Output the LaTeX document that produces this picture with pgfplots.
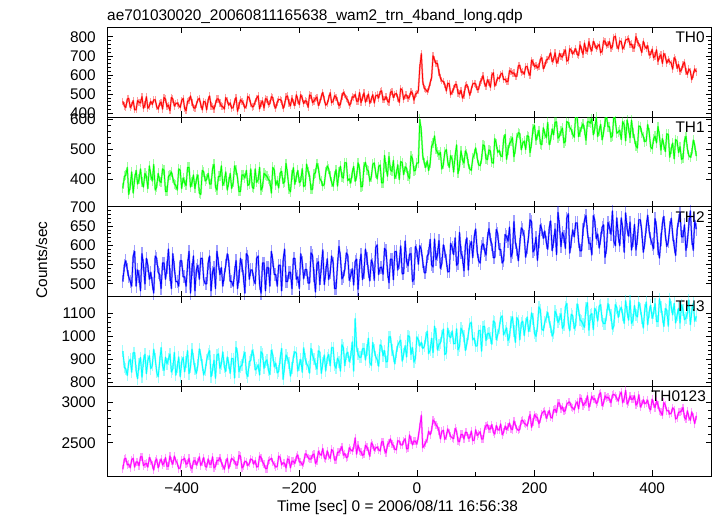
\documentclass[border=0pt]{standalone}
\usepackage{fontspec}
\setmainfont{Liberation Sans}
\usepackage{pgfplots}
\usepackage{pgfplotstable}
\pgfplotsset{compat=1.18}
\definecolor{qred}{rgb}{1,0,0}
\definecolor{qgreen}{rgb}{0,1,0}
\definecolor{qblue}{rgb}{0,0,1}
\definecolor{qcyan}{rgb}{0,1,1}
\definecolor{qmag}{rgb}{1,0,1}

\pgfplotstableread{
t a b c d e
-500 462 370 506 936 2174
-497.5 438 410 548 866 2300
-495 430 415 560 859 2309
-492.5 474 440 536 831 2228
-490 478 350 518 888 2237
-487.5 430 380 506 901 2192
-485 442 425 494 845 2291
-482.5 466 355 572 929 2309
-480 418 400 584 929 2201
-477.5 418 430 494 852 2264
-475 466 385 536 817 2264
-472.5 458 400 518 880 2219
-470 454 435 482 908 2327
-467.5 486 390 578 824 2327
-465 426 375 548 895 2219
-462.5 446 420 500 922 2237
-460 486 410 566 839 2246
-457.5 426 370 548 895 2201
-455 438 445 512 916 2318
-452.5 462 415 530 860 2282
-450 446 395 500 874 2228
-447.5 470 450 476 944 2165
-445 470 365 572 902 2273
-442.5 434 375 566 846 2300
-440 422 420 530 825 2192
-437.5 450 395 524 888 2255
-435 458 390 488 951 2300
-432.5 422 435 554 874 2228
-430 482 430 554 853 2255
-427.5 474 360 512 909 2318
-425 434 360 542 881 2210
-422.5 442 410 590 902 2210
-420 414 415 524 923 2336
-417.5 482 425 488 846 2273
-415 474 405 578 860 2237
-412.5 438 385 542 930 2336
-410 450 380 506 832 2282
-407.5 454 365 506 867 2246
-405 442 435 494 910 2183
-402.5 430 430 560 825 2192
-400 466 370 560 889 2291
-397.5 478 405 518 909 2291
-395 426 390 518 847 2309
-392.5 414 380 494 888 2237
-390 462 440 548 938 2246
-387.5 466 440 584 839 2309
-385 490 375 476 868 2201
-382.5 458 390 536 944 2183
-380 430 415 572 903 2273
-377.5 426 370 482 860 2282
-375 446 400 536 840 2228
-372.5 470 415 548 875 2264
-370 478 355 512 945 2327
-367.5 446 350 566 917 2219
-365 418 430 566 875 2264
-362.5 462 425 512 833 2318
-360 458 395 500 854 2210
-357.5 418 400 500 896 2201
-355 470 420 554 924 2300
-352.5 490 385 572 938 2237
-350 438 385 482 826 2237
-347.5 434 435 530 854 2327
-345 422 450 542 896 2192
-342.5 450 375 488 819 2210
-340 474 365 584 918 2282
-337.5 474 410 554 924 2282
-335 454 410 524 862 2318
-332.5 438 445 542 882 2255
-330 434 380 494 932 2219
-327.5 422 395 524 868 2174
-325 482 425 548 848 2255
-322.5 466 365 578 910 2309
-320 442 390 560 883 2183
-317.5 454 420 506 840 2246
-315 426 370 506 904 2309
-312.5 430 390 494 903 2291
-310 462 445 530 820 2273
-307.5 482 430 560 952 2228
-305 410 405 488 925 2228
-302.5 442 360 518 847 2345
-300 470 360 566 869 2336
-297.5 462 415 548 875 2192
-295 451 415 518 911 2210
-292.5 427 405 476 931 2273
-290 440 430 578 841 2264
-287.5 488 380 572 826 2219
-285 480 385 512 890 2246
-282.5 449 435 536 896 2300
-280 433 375 536 940 2291
-277.5 437 370 512 917 2237
-275 462 435 500 855 2282
-272.5 478 390 566 861 2201
-270 491 400 572 877 2210
-267.5 423 440 500 833 2336
-265 451 365 476 933 2318
-262.5 464 375 554 924 2264
-260 428 420 554 862 2237
-257.5 476 415 482 889 2183
-255 473 410 542 898 2183
-252.5 445 400 542 854 2282
-250 450 395 494 835 2291
-247.5 486 355 584 940 2309
-245 482 440 560 919 2264
-242.5 439 431 524 868 2228
-240 427 381 524 884 2201
-237.5 459 396 494 842 2210
-235 472 372 548 849 2336
-232.5 472 422 548 905 2318
-230 464 427 482 947 2228
-227.5 425 387 560 814 2255
-225 445 392 590 870 2246
-222.5 486 453 506 919 2192
-220 490 418 506 905 2300
-217.5 454 368 530 884 2291
-215 439 359 530 828 2192
-212.5 479 414 488 863 2273
-210 456 439 566 912 2273
-207.5 440 384 566 933 2246
-205 496 409 512 927 2327
-202.5 469 430 518 850 2350
-200 445 390 488 878 2264
-197.5 497 395 578 900 2266
-195 478 436 555 845 2224
-192.5 450 376 513 950 2253
-190 466 381 537 902 2364
-187.5 462 451 537 882 2357
-185 431 426 502 869 2315
-182.5 495 412 502 841 2299
-180 491 367 580 947 2302
-177.5 456 367 574 920 2349
-175 464 418 521 900 2361
-172.5 476 423 479 879 2246
-170 484 453 551 859 2276
-167.5 441 438 557 937 2395
-165 457 403 498 931 2362
-162.5 489 394 546 840 2346
-160 509 379 588 883 2430
-157.5 470 384 498 919 2315
-155 442 425 529 850 2300
-152.5 450 445 565 906 2401
-150 478 435 511 921 2341
-147.5 507 410 529 873 2307
-145 455 391 572 951 2418
-142.5 463 377 554 951 2393
-140 491 412 488 875 2288
-137.5 484 432 488 862 2290
-135 464 378 549 905 2383
-132.5 440 424 597 891 2385
-130 448 444 567 850 2415
-127.5 489 409 513 963 2453
-125 509 405 520 950 2348
-122.5 497 456 538 873 2368
-120 477 456 580 923 2317
-117.5 470 396 574 931 2328
-115 442 402 509 890 2439
-112.5 450 388 521 911 2414
-110 486 423 539 975 2399
-107.5 483 443 497 850 2437
-105 499 394 558 1076 2560
-102.5 463 410 564 956 2361
-100 463 455 486 922 2472
-97.5 508 436 547 909 2403
-95 456 376 577 910 2388
-92.5 481 377 511 946 2346
-90 506 442 530 947 2358
-87.5 458 457 590 898 2469
-85 479 433 567 941 2445
-82.5 500 428 531 991 2403
-80 452 394 508 887 2334
-77.5 473 409 562 874 2499
-75 497 450 551 973 2475
-72.5 454 455 509 939 2406
-70 491 421 594 912 2436
-67.5 495 402 601 898 2448
-65 480 443 524 871 2415
-62.5 513 448 542 963 2400
-60 517 389 543 957 2511
-57.5 470 389 525 916 2514
-55 471 480 592 938 2409
-52.5 487 440 586 890 2376
-50 464 411 533 891 2478
-47.5 457 476 503 997 2499
-45 509 432 564 998 2547
-42.5 514 427 564 942 2487
-40 482 463 511 915 2463
-37.5 499 403 583 881 2421
-35 504 419 584 931 2415
-32.5 480 449 536 960 2526
-30 457 400 555 975 2520
-27.5 529 460 598 983 2478
-25 520 456 526 893 2472
-22.5 472 416 527 923 2520
-20 495 442 611 959 2550
-17.5 495 437 558 911 2427
-15 478 413 547 1003 2430
-12.5 486 403 577 998 2595
-10 513 478 578 922 2535
-7.5 505 469 506 951 2475
-5 469 429 513 889 2523
-2.5 500 430 597 905 2517
0 504 455 586 997 2484
2.5 520 455 551 984 2580
5 640 600 599 958 2700
7.5 712 560 588 974 2840
10 568 480 558 947 2440
12.5 530 455 529 956 2470
15 525 440 529 992 2502
17.5 512 462 572 1022 2545
20 526 430 578 925 2642
22.5 560 455 615 941 2600
25 586 510 549 991 2655
27.5 700 520 544 930 2780
30 680 545 616 1043 2760
32.5 660 500 563 1010 2720
35 660 490 575 941 2700
37.5 615 482 612 964 2647
40 584 490 540 972 2549
42.5 570 435 553 1002 2642
45 565 450 601 1031 2654
47.5 551 490 584 921 2541
50 517 500 560 929 2581
52.5 557 460 531 1035 2671
55 554 440 532 1001 2625
57.5 497 480 605 994 2580
60 512 465 593 1023 2561
62.5 527 425 576 968 2552
65 551 480 619 969 2677
67.5 550 515 548 1032 2641
70 506 420 554 942 2523
72.5 501 445 633 957 2514
75 520 495 580 1035 2603
77.5 480 465 569 1021 2603
80 495 455 534 1001 2548
82.5 543 495 600 939 2629
85 550 485 619 968 2628
87.5 526 450 536 1010 2556
90 494 435 597 1053 2564
92.5 526 430 610 1061 2645
95 553 470 568 985 2527
97.5 557 485 623 992 2536
100 553 505 642 958 2661
102.5 523 472 583 959 2590
105 526 449 560 1024 2609
107.5 564 446 554 1025 2637
110 574 468 597 936 2548
112.5 596 515 604 1042 2549
115 555 512 587 1043 2667
117.5 541 469 575 982 2709
120 575 466 618 1011 2724
122.5 561 498 643 1013 2667
125 536 495 614 993 2673
127.5 598 457 603 966 2724
130 612 454 568 1066 2630
132.5 542 536 568 1060 2608
135 561 518 641 985 2713
137.5 587 490 630 1007 2662
140 581 497 589 1036 2657
142.5 603 479 589 1080 2732
145 610 476 554 1088 2600
147.5 576 533 561 1006 2631
150 578 550 628 1021 2706
152.5 565 467 622 1036 2664
155 568 499 611 982 2694
157.5 623 520 647 997 2743
160 618 527 570 1061 2674
162.5 609 539 582 1084 2662
165 611 476 661 1022 2768
167.5 594 502 607 974 2720
170 593 539 590 1081 2673
172.5 648 556 560 1068 2652
175 651 553 603 985 2667
177.5 614 499 645 1057 2772
180 617 521 640 1065 2779
182.5 604 528 622 1003 2740
185 643 500 569 1054 2729
187.5 645 546 593 1083 2708
190 612 543 624 1021 2787
192.5 599 490 666 1044 2847
195 678 522 661 1101 2691
197.5 665 568 583 1075 2761
200 644 580 590 1013 2848
202.5 651 531 621 1000 2820
205 638 547 561 1043 2809
207.5 645 563 610 1127 2736
210 683 519 653 1114 2789
212.5 690 516 641 1031 2860
215 633 572 618 1025 2885
217.5 648 553 637 1060 2893
220 679 539 608 1082 2802
222.5 682 590 590 1104 2846
225 697 516 645 1063 2898
227.5 716 532 663 1042 2816
230 670 568 586 1001 2806
232.5 681 549 611 1016 2904
235 716 590 642 1108 2912
237.5 663 592 576 1094 2875
240 674 538 685 1060 2990
242.5 713 544 650 1075 2989
245 699 560 597 1097 2916
247.5 694 571 633 1034 2942
250 717 522 622 1049 2886
252.5 731 527 592 1127 2899
255 673 593 670 1142 2976
257.5 679 589 682 1058 2998
260 738 574 580 1024 3002
262.5 728 565 610 1095 2943
265 710 551 640 1089 2930
267.5 724 541 622 1033 2907
270 738 612 658 1048 2974
272.5 708 612 658 1140 3005
275 703 543 610 1113 2920
277.5 757 559 586 1071 3050
280 735 574 586 1065 3045
282.5 709 585 640 1052 2959
285 767 565 665 1039 2982
287.5 729 531 677 1123 3004
290 724 592 635 1145 3080
292.5 774 592 605 1027 2940
295 740 588 605 1091 2990
297.5 726 603 575 1098 3075
300 776 549 677 1029 3034
302.5 761 569 665 1121 3045
305 738 608 617 1107 2984
307.5 751 543 629 1066 3004
310 760 563 593 1130 3096
312.5 717 583 617 1137 3116
315 726 532 647 1068 2956
317.5 779 557 653 1055 2994
320 776 592 569 1055 3077
322.5 753 611 593 1091 3052
325 758 576 659 1141 3063
327.5 775 576 647 1113 3038
330 740 540 629 1093 2995
332.5 749 545 689 1031 3087
335 798 615 611 1045 3098
337.5 803 595 599 1137 3082
340 756 554 671 1124 3048
342.5 737 559 623 1082 3014
345 778 564 599 1111 3088
347.5 775 533 671 1126 3126
350 736 593 642 1091 2993
352.5 752 581 582 1056 3042
355 783 529 684 1154 3145
357.5 787 598 642 1105 2978
360 791 571 624 1070 3009
362.5 758 539 660 1154 3076
365 762 597 588 1056 3035
367.5 742 556 612 1070 3039
370 742 534 654 1133 3079
372.5 801 512 588 1091 2966
375 773 505 618 1084 2988
377.5 764 578 666 1147 3091
380 743 576 666 1119 2942
382.5 718 555 636 1078 2973
385 777 543 582 1036 3031
387.5 752 526 606 1113 2981
390 739 529 648 1148 2994
392.5 754 583 678 1050 3025
395 705 556 636 1106 2930
397.5 708 509 617 1134 2907
400 735 502 603 1078 3037
402.5 691 535 591 1099 2977
405 700 544 669 1141 2935
407.5 732 522 645 1064 3018
410 672 576 591 1064 2967
412.5 696 544 567 1162 2898
415 705 498 615 1127 2874
417.5 661 536 657 1085 2841
420 713 515 675 1043 2997
422.5 697 493 627 1120 2963
425 662 552 597 1113 2894
427.5 682 550 609 1044 2897
430 670 474 646 1163 2855
432.5 662 502 670 1128 2866
435 631 521 628 1093 2932
437.5 691 469 598 1142 2908
440 679 533 574 1058 2794
442.5 635 527 640 1093 2808
445 655 490 664 1121 2875
447.5 619 509 682 1058 2880
450 627 467 622 1135 2894
452.5 655 471 622 1114 2934
455 667 529 653 1072 2813
457.5 620 543 587 1079 2791
460 604 502 611 1100 2894
462.5 632 480 653 1156 2818
465 620 474 689 1051 2778
467.5 576 487 617 1107 2881
470 604 531 587 1142 2814
472.5 632 514 665 1065 2737
475 616 478 642 1086 2832
}\lc

\pgfplotsset{
  panel/.style={
    scale only axis, width=604.5bp, height=89.74bp, anchor=south west,
    xmin=-527, xmax=501, xtick={-400,-200,0,200,400}, minor x tick num=1,
    minor y tick num=4,
    tick align=inside, xtick pos=both, ytick pos=both,
    major tick length=6bp, minor tick length=3.5bp,
    axis line style={line width=0.8bp},
    every tick/.append style={line width=0.7bp, black},
    tick label style={font=\fontsize{15.4bp}{18bp}\selectfont, inner sep=0pt},
    yticklabel style={xshift=-11bp},
    xticklabel style={yshift=-7bp},
    /pgf/number format/assume math mode=true,
    /pgf/number format/1000 sep={},
    scaled y ticks=false,
    xticklabels={},
  },
}
\tikzset{
  thlab/.style={anchor=north east, inner sep=0pt, font=\fontsize{15.4bp}{18bp}\selectfont},
}
% #1 colour, #2 column, #3 half length of the light error-bar marks
\newcommand\series[3]{%
  \addplot[only marks, mark=|, mark size=#3, mark options={#1, opacity=0.38, line width=1.2bp}] table[x=t,y=#2]{\lc};
  \addplot[#1, opacity=0.45, line width=1.8bp, line join=round] table[x=t,y=#2]{\lc};
  \addplot[#1, line width=0.75bp, line join=round] table[x=t,y=#2]{\lc};
}

\begin{document}
\begin{tikzpicture}
\path[use as bounding box] (0bp,0bp) rectangle (717bp,516bp);

% TH0
\begin{axis}[panel, at={(107bp,398.96bp)}, ymin=380, ymax=850, ytick={400,500,600,700,800}]
\series{qred}{a}{3.6bp}
\node[thlab] at (rel axis cs:0.989,0.951) {TH0};
\end{axis}

% TH1
\begin{axis}[panel, at={(107bp,309.22bp)}, ymin=309, ymax=608, ytick={400,500,600}]
\series{qgreen}{b}{5bp}
\node[thlab] at (rel axis cs:0.989,0.951) {TH1};
\end{axis}

% TH2
\begin{axis}[panel, at={(107bp,219.48bp)}, ymin=467, ymax=700, ytick={500,550,600,650,700}]
\series{qblue}{c}{6.5bp}
\node[thlab] at (rel axis cs:0.989,0.951) {TH2};
\end{axis}

% TH3
\begin{axis}[panel, at={(107bp,129.74bp)}, ymin=784, ymax=1172, ytick={800,900,1000,1100}]
\series{qcyan}{d}{6bp}
\node[thlab] at (rel axis cs:0.989,0.951) {TH3};
\end{axis}

% TH0123
\begin{axis}[panel, at={(107bp,40bp)}, ymin=2091, ymax=3197, ytick={2500,3000},
  xticklabels={−400,−200,0,200,400}]
\series{qmag}{e}{4bp}
\node[thlab] at (rel axis cs:0.991,0.951) {TH0123};
\end{axis}

\node[anchor=base west, inner sep=0pt, font=\fontsize{15.4bp}{18bp}\selectfont] at (107bp,495.5bp) {ae701030020\_20060811165638\_wam2\_trn\_4band\_long.qdp};
\node[anchor=base, inner sep=0pt, rotate=90, font=\fontsize{15.4bp}{18bp}\selectfont] at (47bp,256bp) {Counts/sec};
\node[anchor=base, inner sep=0pt, font=\fontsize{15.4bp}{18bp}\selectfont] at (397.5bp,4.3bp) {Time [sec] 0 = 2006/08/11 16:56:38};
\end{tikzpicture}
\end{document}
